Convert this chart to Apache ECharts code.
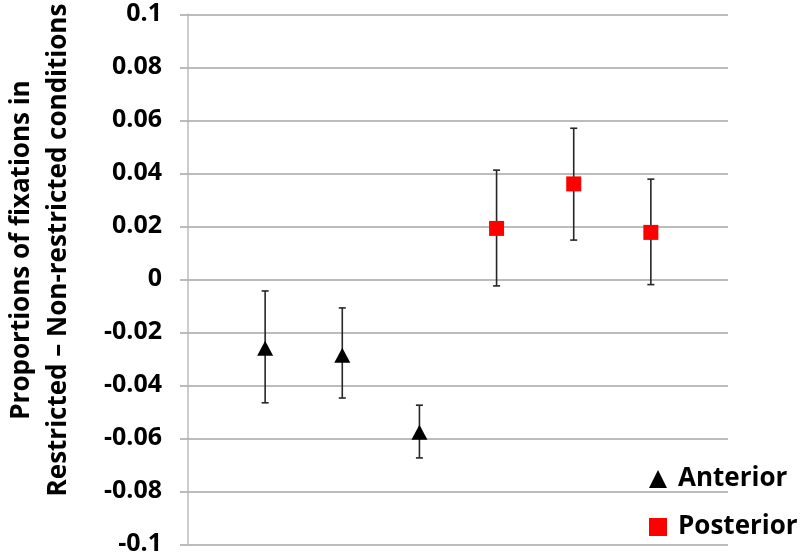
<!DOCTYPE html>
<html>
<head>
<meta charset="utf-8">
<script src="https://cdn.jsdelivr.net/npm/echarts@6/dist/echarts.min.js"></script>
<style>html,body{margin:0;padding:0;background:#fff}#c{width:800px;height:558px}</style>
</head>
<body>
<div id="c"></div>
<script>
// Data
const anteriorX = [1, 2, 3];
const anteriorMean = [-0.026, -0.0287, -0.0577];
const anteriorLow = [-0.0466, -0.0448, -0.0674];
const anteriorHigh = [-0.0044, -0.0108, -0.0475];
const posteriorX = [4, 5, 6];
const posteriorMean = [0.0192, 0.036, 0.0177];
const posteriorLow = [-0.0025, 0.0148, -0.0020];
const posteriorHigh = [0.0412, 0.057, 0.0378];
const seriesNames = ['Anterior', 'Posterior'];
const yTitleLines = ['Proportions of fixations in', 'Restricted \u2013 Non-restricted conditions'];

const FONT = '"Open Sans", sans-serif';

const errData = [];
anteriorX.forEach((x, i) => errData.push([x, anteriorLow[i], anteriorHigh[i]]));
posteriorX.forEach((x, i) => errData.push([x, posteriorLow[i], posteriorHigh[i]]));

const chart = echarts.init(document.getElementById('c'), null, {renderer: 'canvas'});
chart.setOption({
  animation: false,
  backgroundColor: '#ffffff',
  grid: {left: 188, right: 72, top: 14.3, bottom: 13.7, containLabel: false},
  xAxis: {type: 'value', min: 0, max: 7, show: false},
  yAxis: {
    type: 'value', min: -0.1, max: 0.1, interval: 0.02,
    axisLine: {show: true, lineStyle: {color: '#bdbdbd', width: 1.5}},
    axisTick: {show: true, length: 8, lineStyle: {color: '#a6a6a6', width: 1.5}},
    splitLine: {show: true, lineStyle: {color: '#a6a6a6', width: 1.5}},
    axisLabel: {
      margin: 26, color: '#000', fontFamily: FONT, fontWeight: 'bold', fontSize: 25,
      formatter: v => String(parseFloat(v.toFixed(2)))
    }
  },
  legend: {
    orient: 'vertical', left: 644, top: 461, itemGap: 22,
    itemWidth: 18, itemHeight: 18,
    textStyle: {fontFamily: FONT, fontWeight: 'bold', fontSize: 26, color: '#000', padding: [0, 0, 0, 6]},
    data: [{name: seriesNames[0], icon: 'triangle'}, {name: seriesNames[1], icon: 'rect'}]
  },
  graphic: [{
    type: 'text', x: 40, y: 250, rotation: Math.PI / 2,
    style: {
      text: yTitleLines.join('\n'), fontFamily: FONT, fontWeight: 'bold', fontSize: 26,
      lineHeight: 37, fill: '#000', align: 'center', verticalAlign: 'middle'
    }
  }],
  series: [
    {
      type: 'custom', name: 'err', silent: true, z: 1,
      data: errData,
      renderItem: (params, api) => {
        const x = api.value(0);
        const lo = api.coord([x, api.value(1)]);
        const hi = api.coord([x, api.value(2)]);
        const cw = 3.5;
        const st = {stroke: '#262626', lineWidth: 1.6};
        return {type: 'group', children: [
          {type: 'line', shape: {x1: lo[0], y1: lo[1], x2: hi[0], y2: hi[1]}, style: st},
          {type: 'line', shape: {x1: lo[0] - cw, y1: lo[1], x2: lo[0] + cw, y2: lo[1]}, style: st},
          {type: 'line', shape: {x1: hi[0] - cw, y1: hi[1], x2: hi[0] + cw, y2: hi[1]}, style: st}
        ]};
      }
    },
    {
      type: 'scatter', name: seriesNames[0], z: 3, symbol: 'triangle', symbolSize: [16, 15],
      itemStyle: {color: '#000000', opacity: 1},
      data: anteriorX.map((x, i) => [x, anteriorMean[i]])
    },
    {
      type: 'scatter', name: seriesNames[1], z: 3, symbol: 'rect', symbolSize: 15,
      itemStyle: {color: '#ff0000', opacity: 1},
      data: posteriorX.map((x, i) => [x, posteriorMean[i]])
    }
  ]
});
</script>
</body>
</html>
